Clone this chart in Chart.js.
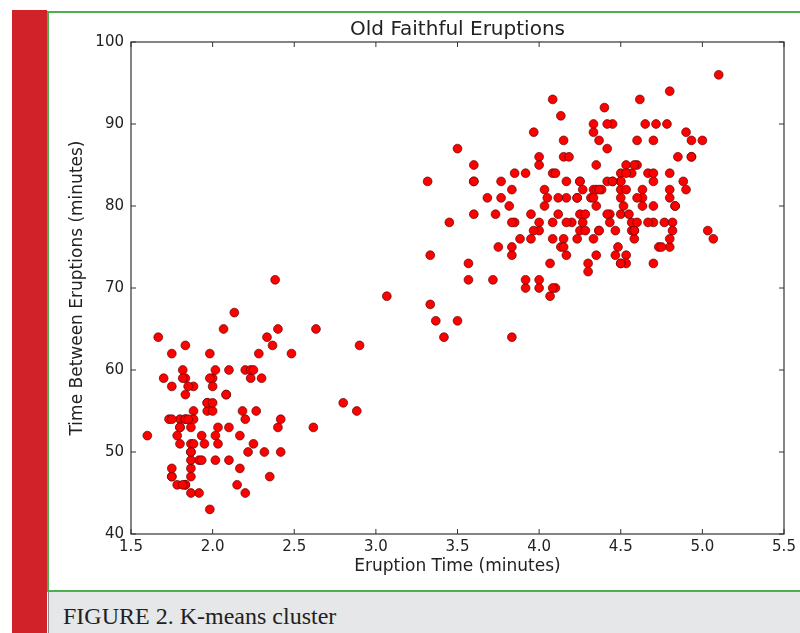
<!DOCTYPE html>
<html>
<head>
<meta charset="utf-8">
<script src="https://cdn.jsdelivr.net/npm/chart.js@4"></script>
<style>
  html, body { margin: 0; padding: 0; background: #fff; }
  body { width: 800px; height: 633px; position: relative; overflow: hidden; }
  #bar { position: absolute; left: 12px; top: 10px; width: 35px; height: 623px; background: #d1222a; }
  #frame { position: absolute; left: 47px; top: 11px; width: 770px; height: 577px;
           border: 2px solid #4caf50; background: #fff; }
  #caption { position: absolute; left: 48px; top: 592px; width: 752px; height: 41px;
             background: #e6e7e9; border-left: 1px solid #8a8a8a; box-sizing: border-box;
             font-family: "Liberation Serif", serif; font-size: 24px; color: #231f20;
             padding-left: 14px; line-height: 48px; overflow: hidden; }
  #chart { position: absolute; left: 0; top: 0; }
</style>
</head>
<body>
<div id="bar"></div>
<div id="frame"></div>
<div id="caption">FIGURE 2. K-means cluster</div>
<canvas id="chart" width="800" height="590"></canvas>
<script>
// Old Faithful: eruption length and wait until the next eruption (minutes)
const eruptionMinutes = [
  3.600, 1.800, 3.333, 2.283, 4.533, 2.883, 4.700, 3.600, 1.950, 4.350,
  1.833, 3.917, 4.200, 1.750, 4.700, 2.167, 1.750, 4.800, 1.600, 4.250,
  1.800, 1.750, 3.450, 3.067, 4.533, 3.600, 1.967, 4.083, 3.850, 4.433,
  4.300, 4.467, 3.367, 4.033, 3.833, 2.017, 1.867, 4.833, 1.833, 4.783,
  4.350, 1.883, 4.567, 1.750, 4.533, 3.317, 3.833, 2.100, 4.633, 2.000,
  4.800, 4.716, 1.833, 4.833, 1.733, 4.883, 3.717, 1.667, 4.567, 4.317,
  2.233, 4.500, 1.750, 4.800, 1.817, 4.400, 4.167, 4.700, 2.067, 4.700,
  4.033, 1.967, 4.500, 4.000, 1.983, 5.067, 2.017, 4.567, 3.883, 3.600,
  4.133, 4.333, 4.100, 2.633, 4.067, 4.933, 3.950, 4.517, 2.167, 4.000,
  2.200, 4.333, 1.867, 4.817, 1.833, 4.300, 4.667, 3.750, 1.867, 4.900,
  2.483, 4.367, 2.100, 4.500, 4.050, 1.867, 4.700, 1.783, 4.850, 3.683,
  4.733, 2.300, 4.900, 4.417, 1.700, 4.633, 2.317, 4.600, 1.817, 4.417,
  2.617, 4.067, 4.250, 1.967, 4.600, 3.767, 1.917, 4.500, 2.267, 4.650,
  1.867, 4.167, 2.800, 4.333, 1.833, 4.383, 1.883, 4.933, 2.033, 3.733,
  4.233, 2.233, 4.533, 4.817, 4.333, 1.983, 4.633, 2.017, 5.100, 1.800,
  5.033, 4.000, 2.400, 4.600, 3.567, 4.000, 4.500, 4.083, 1.800, 3.967,
  2.200, 4.150, 2.000, 3.833, 3.500, 4.583, 2.367, 5.000, 1.933, 4.617,
  1.917, 2.083, 4.583, 3.333, 4.167, 4.333, 4.500, 2.417, 4.000, 4.167,
  1.883, 4.583, 4.250, 3.767, 2.033, 4.433, 4.083, 1.833, 4.417, 2.183,
  4.800, 1.833, 4.800, 4.100, 3.966, 4.233, 3.500, 4.366, 2.250, 4.667,
  2.100, 4.350, 4.133, 1.867, 4.600, 1.783, 4.367, 3.850, 1.933, 4.500,
  2.383, 4.700, 1.867, 3.833, 3.417, 4.233, 2.400, 4.800, 2.000, 4.150,
  1.867, 4.267, 1.750, 4.483, 4.000, 4.117, 4.083, 4.267, 3.917, 4.550,
  4.083, 2.417, 4.183, 2.217, 4.450, 1.883, 1.850, 4.283, 3.950, 2.333,
  4.150, 2.350, 4.933, 2.900, 4.583, 3.833, 2.083, 4.367, 2.133, 4.350,
  2.200, 4.450, 3.567, 4.500, 4.150, 3.817, 3.917, 4.450, 2.000, 4.283,
  4.767, 4.533, 1.850, 4.250, 1.983, 2.250, 4.750, 4.117, 2.150, 4.417,
  1.817, 4.467
];
const waitMinutes = [
  79, 54, 74, 62, 85, 55, 88, 85, 51, 85,
  54, 84, 78, 47, 83, 52, 62, 84, 52, 79,
  51, 47, 78, 69, 74, 83, 55, 76, 78, 79,
  73, 77, 66, 80, 74, 52, 48, 80, 59, 90,
  80, 58, 84, 58, 73, 83, 64, 53, 82, 59,
  75, 90, 54, 80, 54, 83, 71, 64, 77, 81,
  59, 84, 48, 82, 60, 92, 78, 78, 65, 73,
  82, 56, 79, 71, 62, 76, 60, 78, 76, 83,
  75, 82, 70, 65, 73, 88, 76, 80, 48, 86,
  60, 90, 50, 78, 63, 72, 84, 75, 51, 82,
  62, 88, 49, 83, 81, 47, 84, 52, 86, 81,
  75, 59, 89, 79, 59, 81, 50, 85, 59, 87,
  53, 69, 77, 56, 88, 81, 45, 82, 55, 90,
  45, 83, 56, 89, 46, 82, 51, 86, 53, 79,
  81, 60, 82, 77, 76, 59, 80, 49, 96, 53,
  77, 77, 65, 81, 71, 70, 81, 93, 53, 89,
  45, 86, 58, 78, 66, 76, 63, 88, 52, 93,
  49, 57, 77, 68, 81, 81, 73, 50, 85, 74,
  55, 77, 83, 83, 51, 78, 84, 46, 83, 55,
  81, 57, 76, 84, 77, 81, 87, 77, 51, 78,
  60, 82, 91, 53, 78, 46, 77, 84, 49, 83,
  71, 80, 49, 75, 64, 76, 53, 94, 55, 76,
  50, 82, 54, 75, 78, 79, 78, 78, 70, 79,
  70, 54, 86, 50, 90, 54, 54, 77, 79, 64,
  75, 47, 86, 63, 85, 82, 57, 82, 67, 74,
  54, 83, 73, 73, 88, 80, 71, 83, 56, 79,
  78, 84, 58, 83, 43, 60, 75, 81, 46, 90,
  46, 74
];

const xRange = [1.5, 5.5];
const yRange = [40, 100];

const points = eruptionMinutes.map((e, i) => ({ x: e, y: waitMinutes[i] }));

const FONT = "'DejaVu Sans', sans-serif";
Chart.defaults.color = "#222";
Chart.defaults.font.family = FONT;

// box around the plot with inward tick marks on every side
const boxedAxes = {
    id: "boxedAxes",
    afterDraw(chart) {
        const { ctx, chartArea: a, scales } = chart;
        const len = 5;
        ctx.save();
        ctx.strokeStyle = "#333";
        ctx.lineWidth = 1.2;
        ctx.strokeRect(a.left, a.top, a.right - a.left, a.bottom - a.top);

        ctx.lineWidth = 1;
        ctx.beginPath();
        scales.x.ticks.forEach(t => {
            const px = scales.x.getPixelForValue(t.value);
            ctx.moveTo(px, a.bottom); ctx.lineTo(px, a.bottom - len);
            ctx.moveTo(px, a.top); ctx.lineTo(px, a.top + len);
        });
        scales.y.ticks.forEach(t => {
            const py = scales.y.getPixelForValue(t.value);
            ctx.moveTo(a.left, py); ctx.lineTo(a.left + len, py);
            ctx.moveTo(a.right, py); ctx.lineTo(a.right - len, py);
        });
        ctx.stroke();
        ctx.restore();
    }
};

new Chart(document.getElementById("chart"), {
    type: "scatter",
    data: {
        datasets: [{
            data: points,
            pointRadius: 4.4,
            pointHoverRadius: 4.4,
            backgroundColor: "#ff0000",
            borderColor: "rgba(90,0,0,0.85)",
            borderWidth: 0.8
        }]
    },
    options: {
        responsive: false,
        animation: false,
        events: [],
        layout: { padding: { top: 18, left: 67, right: 16, bottom: 13 } },
        plugins: {
            legend: { display: false },
            tooltip: { enabled: false },
            title: {
                display: true,
                fullSize: false,
                text: "Old Faithful Eruptions",
                font: { family: FONT, size: 20, weight: "normal" },
                padding: { top: 0, bottom: 0 }
            }
        },
        scales: {
            x: {
                type: "linear",
                min: xRange[0],
                max: xRange[1],
                grid: { display: false, drawTicks: false },
                border: { display: false },
                ticks: {
                    stepSize: 0.5,
                    padding: 4,
                    font: { size: 15 },
                    callback: v => v.toFixed(1)
                },
                title: {
                    display: true,
                    text: "Eruption Time (minutes)",
                    font: { size: 17 },
                    padding: 0
                },
                afterFit: s => { s.height = 43; }
            },
            y: {
                type: "linear",
                min: yRange[0],
                max: yRange[1],
                grid: { display: false, drawTicks: false },
                border: { display: false },
                ticks: { stepSize: 10, padding: 7, font: { size: 15 } },
                title: {
                    display: true,
                    text: "Time Between Eruptions (minutes)",
                    font: { size: 17 },
                    padding: 0
                },
                afterFit: s => { s.width = 64; }
            }
        }
    },
    plugins: [boxedAxes]
});
</script>
</body>
</html>
